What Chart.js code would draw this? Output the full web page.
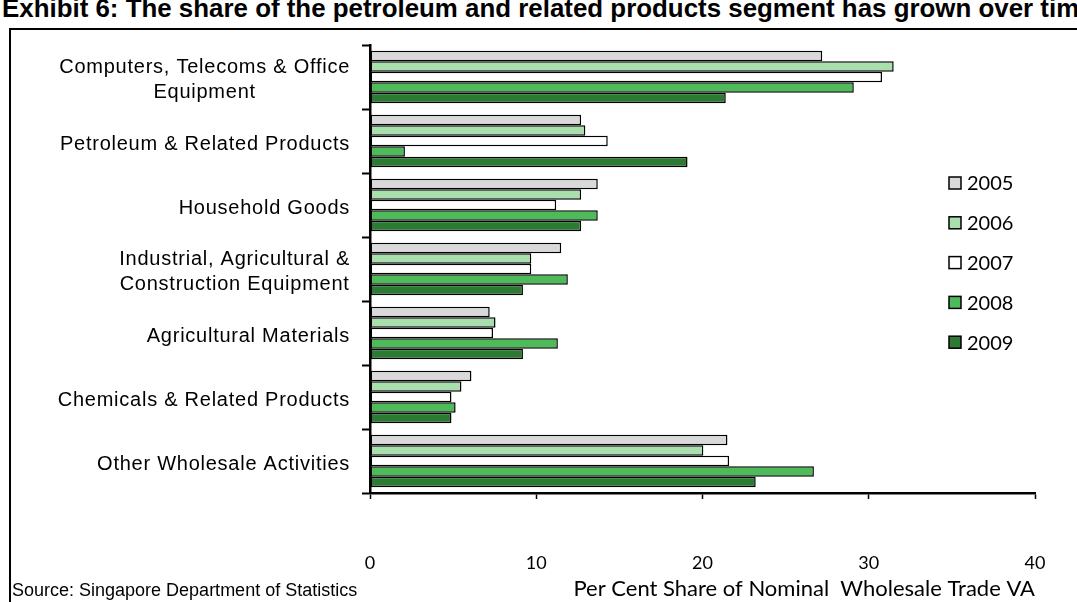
<!DOCTYPE html>
<html>
<head>
<meta charset="utf-8">
<title>Share of Nominal Wholesale Trade VA</title>
<script src="https://cdn.jsdelivr.net/npm/chart.js@4.4.1/dist/chart.umd.min.js"></script>
<style>
  html, body { margin: 0; padding: 0; background: #fff; }
  body { width: 1077px; height: 602px; position: relative; overflow: hidden; font-family: "Liberation Sans", Arial, sans-serif; color: #000; }
  #title { position: absolute; left: 2px; top: -5px; font-weight: bold; font-size: 26px; line-height: 26px; white-space: nowrap; transform-origin: 0 0; }
  #frame { position: absolute; left: 9px; top: 28px; width: 1200px; height: 700px; border: 2px solid #000; }
  #chart { position: absolute; left: 0; top: 0; }
  #source { position: absolute; left: 12px; top: 580px; font-size: 18px; white-space: nowrap; }
</style>
</head>
<body>
<div id="title">Exhibit 6: The share of the petroleum and related products segment has grown over time</div>
<div id="frame"></div>
<canvas id="chart" width="1077" height="602"></canvas>
<div id="source">Source: Singapore Department of Statistics</div>

<script>
// segments, top to bottom (multi-line labels as arrays)
const categories = [
  ['Computers, Telecoms & Office', 'Equipment'],
  ['Petroleum & Related Products'],
  ['Household Goods'],
  ['Industrial, Agricultural &', 'Construction Equipment'],
  ['Agricultural Materials'],
  ['Chemicals & Related Products'],
  ['Other Wholesale Activities']
];

const years = ['2005', '2006', '2007', '2008', '2009'];

// per cent share of nominal wholesale trade VA
const share2005 = [27.2, 12.7, 13.7, 11.5, 7.2, 6.1, 21.5];
const share2006 = [31.5, 12.95, 12.7, 9.7, 7.55, 5.5, 20.05];
const share2007 = [30.8, 14.3, 11.2, 9.7, 7.4, 4.9, 21.6];
const share2008 = [29.1, 2.1, 13.7, 11.9, 11.3, 5.15, 26.7];
const share2009 = [21.4, 19.1, 12.7, 9.2, 9.2, 4.9, 23.2];

const xTicks = [0, 10, 20, 30, 40];
const xTitle = 'Per Cent Share of Nominal  Wholesale Trade VA';

const seriesValues = [share2005, share2006, share2007, share2008, share2009];
const seriesColors = ['#d9d9d9', '#a9dfac', '#ffffff', '#4dbb5a', '#2e7a35'];

// stretch the heading across the top
const title = document.getElementById('title');
title.style.transform = 'scaleX(' + (1092 / title.offsetWidth) + ')';

// category names and the legend are drawn by hand so they can sit where we want
const sideLabels = {
  id: 'sideLabels',
  afterDraw(chart) {
    const ctx = chart.ctx;
    const yScale = chart.scales.y;
    ctx.save();
    ctx.fillStyle = '#000';
    ctx.textBaseline = 'middle';

    // category names, each block right-aligned, lines centred within it
    ctx.font = '20px "Liberation Sans"';
    ctx.letterSpacing = '0.75px';
    ctx.textAlign = 'center';
    chart.data.labels.forEach((lines, i) => {
      const yc = yScale.getPixelForValue(i) + 3;
      const widest = Math.max(...lines.map(l => ctx.measureText(l).width));
      const xc = 350 - widest / 2;
      lines.forEach((line, j) => {
        ctx.fillText(line, xc, yc + (j - (lines.length - 1) / 2) * 25);
      });
    });

    // legend
    ctx.letterSpacing = '0px';
    ctx.font = '20px Lato';
    ctx.textAlign = 'left';
    ctx.lineWidth = 1.5;
    ctx.strokeStyle = '#000';
    chart.data.datasets.forEach((ds, i) => {
      const y = 183 + i * 39.8;
      ctx.fillStyle = ds.backgroundColor;
      ctx.fillRect(949, y - 6, 12, 12);
      ctx.strokeRect(949, y - 6, 12, 12);
      ctx.fillStyle = '#000';
      ctx.fillText(ds.label, 967, y + 1);
    });
    ctx.restore();
  }
};

new Chart(document.getElementById('chart'), {
  type: 'bar',
  data: {
    labels: categories,
    datasets: years.map((yr, i) => ({
      label: yr,
      data: seriesValues[i],
      backgroundColor: seriesColors[i],
      borderColor: '#000',
      borderWidth: 1.5,
      borderSkipped: false,
      barPercentage: 1.0,
      categoryPercentage: 0.82
    }))
  },
  options: {
    indexAxis: 'y',
    responsive: false,
    animation: false,
    layout: { padding: { top: 45, right: 42, left: 0, bottom: 0 } },
    plugins: {
      legend: { display: false },
      tooltip: { enabled: false }
    },
    scales: {
      x: {
        min: 0,
        max: 40,
        afterBuildTicks: scale => { scale.ticks = xTicks.map(v => ({ value: v })); },
        afterFit: scale => {
          scale.height = 109;
          // the big label gap should not eat into the plot width
          scale.paddingLeft = 12;
          scale.paddingRight = 12;
        },
        ticks: {
          color: '#000',
          font: { family: 'Lato', size: 18 },
          padding: 53
        },
        grid: { drawOnChartArea: false, tickLength: 6, tickWidth: 1.5, tickColor: '#000' },
        border: { color: '#000', width: 2.5 },
        title: {
          display: true,
          text: xTitle,
          align: 'end',
          color: '#000',
          font: { family: 'Lato', size: 22 },
          padding: { top: 2, bottom: 0 }
        }
      },
      y: {
        afterFit: scale => { scale.width = 370; },
        ticks: { display: false },
        grid: { drawOnChartArea: false, tickLength: 8, tickWidth: 2, tickColor: '#000', offset: true },
        border: { color: '#000', width: 2.5 }
      }
    }
  },
  plugins: [sideLabels]
});
</script>
</body>
</html>
